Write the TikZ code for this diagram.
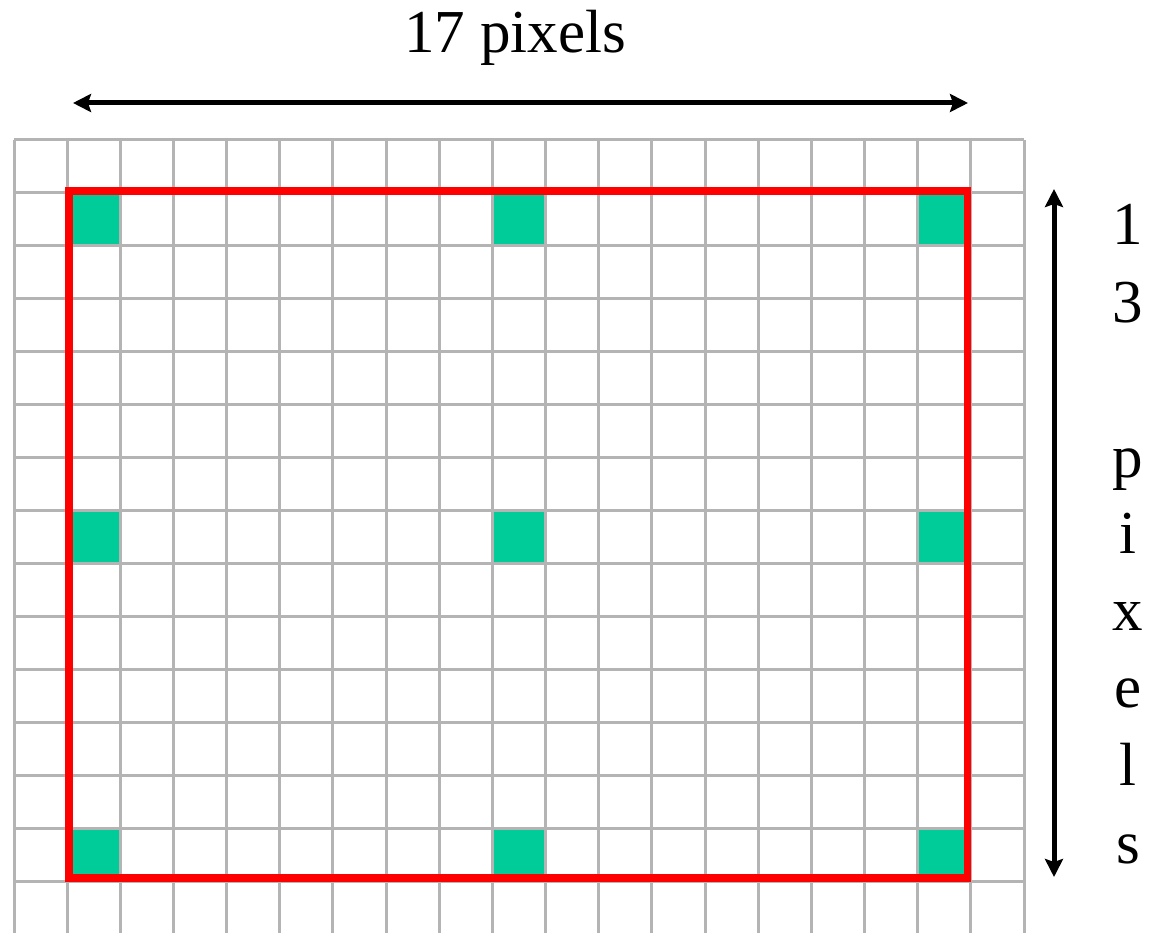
\documentclass[tikz,border=0pt]{standalone}
\usepackage{fontspec}
\setmainfont{Liberation Serif}
\usetikzlibrary{arrows.meta}
\definecolor{gridgray}{HTML}{B4B4B4}
\definecolor{cellgreen}{HTML}{00CC99}
\definecolor{boxred}{HTML}{FF0000}
\begin{document}
\begin{tikzpicture}[x=1pt,y=-1pt,
  gridline/.style={draw=gridgray,line width=3pt},
  greencell/.style={fill=cellgreen},
  redbox/.style={draw=boxred,line width=7.5pt},
  dimarrow/.style={line width=5pt,{Stealth[length=18pt,width=18pt,inset=3pt]}-{Stealth[length=18pt,width=18pt,inset=3pt]}},
  lbl/.style={font=\fontsize{61}{70}\selectfont,anchor=base,inner sep=0pt}]
\useasboundingbox (0,0) rectangle (1157,933);
\def\cw{53.16}
\def\ch{52.95}
% green cells
\foreach \c in {1,9,17}{
  \foreach \r in {1,7,13}{
    \fill[greencell] ({14+\c*\cw},{140+\r*\ch}) rectangle ({14+(\c+1)*\cw},{140+(\r+1)*\ch});
  }
}
% grid
\foreach \k in {0,...,19}{
  \draw[gridline] ({14+\k*\cw},140) -- ({14+\k*\cw},936);
}
\foreach \k in {0,...,15}{
  \draw[gridline] (14,{140+\k*\ch}) -- ({14+19*\cw},{140+\k*\ch});
}
% red rectangle
\draw[redbox] (69,191) rectangle (967.5,878);
% arrows
\coordinate (hl) at (73,103);
\coordinate (hr) at (968,103);
\coordinate (vt) at (1054,189);
\coordinate (vb) at (1054,877);
\draw[dimarrow] (hl) -- (hr);
\draw[dimarrow] (vt) -- (vb);
% labels
\node[lbl] (top) at (515,53) {17 pixels};
\node[lbl] (c1) at (1128,245) {1};
\node[lbl] (c2) at (1128,323) {3};
\node[lbl] (c3) at (1128,477) {p};
\node[lbl] (c4) at (1128,553) {i};
\node[lbl] (c5) at (1128,630) {x};
\node[lbl] (c6) at (1128,707) {e};
\node[lbl] (c7) at (1128,785) {l};
\node[lbl] (c8) at (1128,863) {s};
\end{tikzpicture}
\end{document}
